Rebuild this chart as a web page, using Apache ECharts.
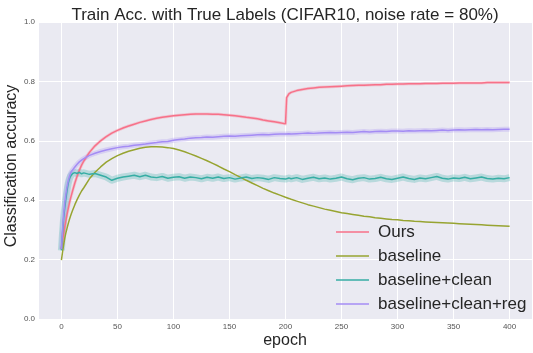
<!DOCTYPE html>
<html>
<head>
<meta charset="utf-8">
<script src="https://cdn.jsdelivr.net/npm/echarts@6/dist/echarts.min.js"></script>
<style>
html,body{margin:0;padding:0;background:#fff;}
#chart{width:533px;height:353px;}
</style>
</head>
<body>
<div id="chart"></div>
<script>
const epochs = [
  0,1,2,3,4,5,6,7,8,9,10,
  12,14,16,18,
  20,25,30,35,40,45,50,55,60,65,
  70,75,80,85,90,95,100,105,110,115,
  120,125,130,135,140,145,150,155,160,165,
  170,175,180,185,190,195,200,
  201,203,
  205,210,215,220,225,230,235,240,245,250,
  255,260,265,270,275,280,285,290,295,300,
  305,310,315,320,325,330,335,340,345,350,
  355,360,365,370,375,380,385,390,395,400
];
const ours = [
  0.235,0.262,0.287,0.310,0.332,0.352,0.370,0.388,0.404,0.418,0.432,
  0.458,0.481,0.501,0.518,
  0.532,0.561,0.583,0.600,0.614,0.626,0.635,0.643,0.650,0.656,
  0.662,0.667,0.672,0.676,0.679,0.682,0.684,0.686,0.688,0.689,
  0.690,0.690,0.690,0.689,0.689,0.688,0.686,0.684,0.682,0.679,
  0.677,0.674,0.670,0.667,0.664,0.661,0.657,
  0.745,0.758,
  0.763,0.769,0.773,0.776,0.778,0.780,0.781,0.782,0.783,0.784,
  0.785,0.786,0.787,0.787,0.788,0.789,0.789,0.790,0.790,0.791,
  0.791,0.792,0.792,0.792,0.793,0.793,0.793,0.794,0.794,0.794,
  0.795,0.795,0.795,0.795,0.795,0.796,0.796,0.796,0.796,0.796
];
const baseline = [
  0.198,0.225,0.250,0.272,0.290,0.305,0.320,0.333,0.345,0.356,0.366,
  0.385,0.402,0.417,0.431,
  0.442,0.472,0.494,0.512,0.528,0.540,0.550,0.558,0.565,0.570,
  0.575,0.578,0.580,0.580,0.579,0.577,0.574,0.569,0.563,0.556,
  0.549,0.541,0.533,0.524,0.515,0.505,0.496,0.486,0.477,0.467,
  0.458,0.449,0.440,0.432,0.424,0.417,0.410,
  0.409,0.406,
  0.403,0.397,0.391,0.385,0.380,0.375,0.370,0.366,0.362,0.358,
  0.355,0.352,0.349,0.346,0.344,0.341,0.339,0.337,0.335,0.334,
  0.332,0.331,0.329,0.328,0.327,0.326,0.325,0.324,0.323,0.322,
  0.321,0.320,0.319,0.318,0.317,0.316,0.315,0.314,0.313,0.312
];
const baselineClean = [
  0.231,0.290,0.340,0.375,0.405,0.432,0.455,0.470,0.480,0.486,0.490,
  0.493,0.490,0.494,0.489,
  0.492,0.487,0.490,0.484,0.478,0.467,0.474,0.478,0.481,0.484,
  0.479,0.484,0.478,0.476,0.480,0.474,0.477,0.479,0.474,0.478,
  0.476,0.472,0.477,0.474,0.478,0.473,0.476,0.471,0.475,0.478,
  0.473,0.476,0.474,0.470,0.476,0.473,0.471,
  0.473,0.475,
  0.472,0.476,0.470,0.474,0.477,0.472,0.475,0.471,0.474,0.478,
  0.472,0.469,0.474,0.476,0.471,0.473,0.477,0.472,0.470,0.474,
  0.478,0.473,0.470,0.475,0.472,0.476,0.480,0.474,0.471,0.475,
  0.473,0.477,0.472,0.475,0.478,0.473,0.471,0.474,0.472,0.476
];
const baselineCleanReg = [
  0.235,0.300,0.350,0.390,0.420,0.445,0.463,0.478,0.489,0.497,0.503,
  0.512,0.521,0.529,0.535,
  0.540,0.551,0.558,0.564,0.569,0.573,0.577,0.580,0.582,0.585,
  0.587,0.589,0.592,0.594,0.597,0.598,0.602,0.604,0.606,0.609,
  0.610,0.611,0.613,0.612,0.614,0.615,0.616,0.615,0.617,0.618,
  0.619,0.620,0.621,0.620,0.622,0.623,0.623,
  0.622,0.624,
  0.623,0.624,0.625,0.626,0.625,0.626,0.627,0.628,0.627,0.628,
  0.629,0.628,0.630,0.631,0.630,0.631,0.632,0.631,0.633,0.633,
  0.632,0.634,0.633,0.634,0.635,0.634,0.635,0.636,0.635,0.636,
  0.637,0.636,0.637,0.638,0.637,0.638,0.637,0.638,0.639,0.639
];
const seriesNames = ['Ours','baseline','baseline+clean','baseline+clean+reg'];
const seriesColors = ['#f77189','#97a431','#36ada4','#a48cf4'];
const bandWidths = [3, 0, 7, 5];
const xTicks = [0,50,100,150,200,250,300,350,400];

const allValues = [ours, baseline, baselineClean, baselineCleanReg];
const pairs = ys => epochs.map((e,i)=>[e, ys[i]]);

const series = [];
allValues.forEach((ys, k) => {
  if (bandWidths[k] > 0) {
    series.push({
      name: seriesNames[k] + ' band', type: 'line', data: pairs(ys),
      showSymbol: false, silent: true, z: 1,
      lineStyle: {color: seriesColors[k], width: bandWidths[k], opacity: 0.28, join: 'round'}
    });
  }
});
allValues.forEach((ys, k) => {
  series.push({
    name: seriesNames[k], type: 'line', data: pairs(ys),
    showSymbol: false, z: 2 + k, color: seriesColors[k],
    lineStyle: {color: seriesColors[k], width: 1.5}
  });
});

const chart = echarts.init(document.getElementById('chart'), null, {renderer: 'canvas'});
chart.setOption({
  animation: false,
  backgroundColor: '#ffffff',
  textStyle: {fontFamily: 'Liberation Sans, Arial, sans-serif'},
  title: {
    text: 'Train Acc. with True Labels (CIFAR10, noise rate = 80%)',
    left: 280, top: 2, textAlign: 'center',
    textStyle: {fontSize: 17, fontWeight: 'normal', color: '#262626', fontFamily: 'Liberation Sans, Arial, sans-serif'}
  },
  grid: {left: 39, right: 1, top: 22, bottom: 34, show: true, backgroundColor: '#EAEAF2', borderWidth: 0},
  xAxis: {
    type: 'value', min: -20, max: 420,
    axisLine: {show: false},
    axisTick: {show: false, customValues: xTicks},
    axisLabel: {customValues: xTicks, fontSize: 8, color: '#555', margin: 4},
    splitLine: {show: true, lineStyle: {color: '#ffffff', width: 1}}
  },
  yAxis: {
    type: 'value', min: 0, max: 1, interval: 0.2,
    axisLine: {show: false}, axisTick: {show: false},
    axisLabel: {fontSize: 8, color: '#555', margin: 4, formatter: v => v.toFixed(1)},
    splitLine: {show: true, lineStyle: {color: '#ffffff', width: 1}}
  },
  legend: {
    data: seriesNames,
    orient: 'vertical', left: 331, top: 217,
    icon: 'rect', itemWidth: 33, itemHeight: 1.5, itemGap: 4,
    textStyle: {fontSize: 17, color: '#262626', lineHeight: 20, padding: [0,0,0,4], fontFamily: 'Liberation Sans, Arial, sans-serif'}
  },
  graphic: [
    {type: 'text', x: 12, y: 166, rotation: Math.PI/2,
     style: {text: 'Classification accuracy', fontSize: 16, fill: '#262626', align: 'center', verticalAlign: 'middle', fontFamily: 'Liberation Sans, Arial, sans-serif'}},
    {type: 'text', x: 285, y: 341,
     style: {text: 'epoch', fontSize: 16, fill: '#262626', align: 'center', verticalAlign: 'middle', fontFamily: 'Liberation Sans, Arial, sans-serif'}}
  ],
  series: series
});
</script>
</body>
</html>
